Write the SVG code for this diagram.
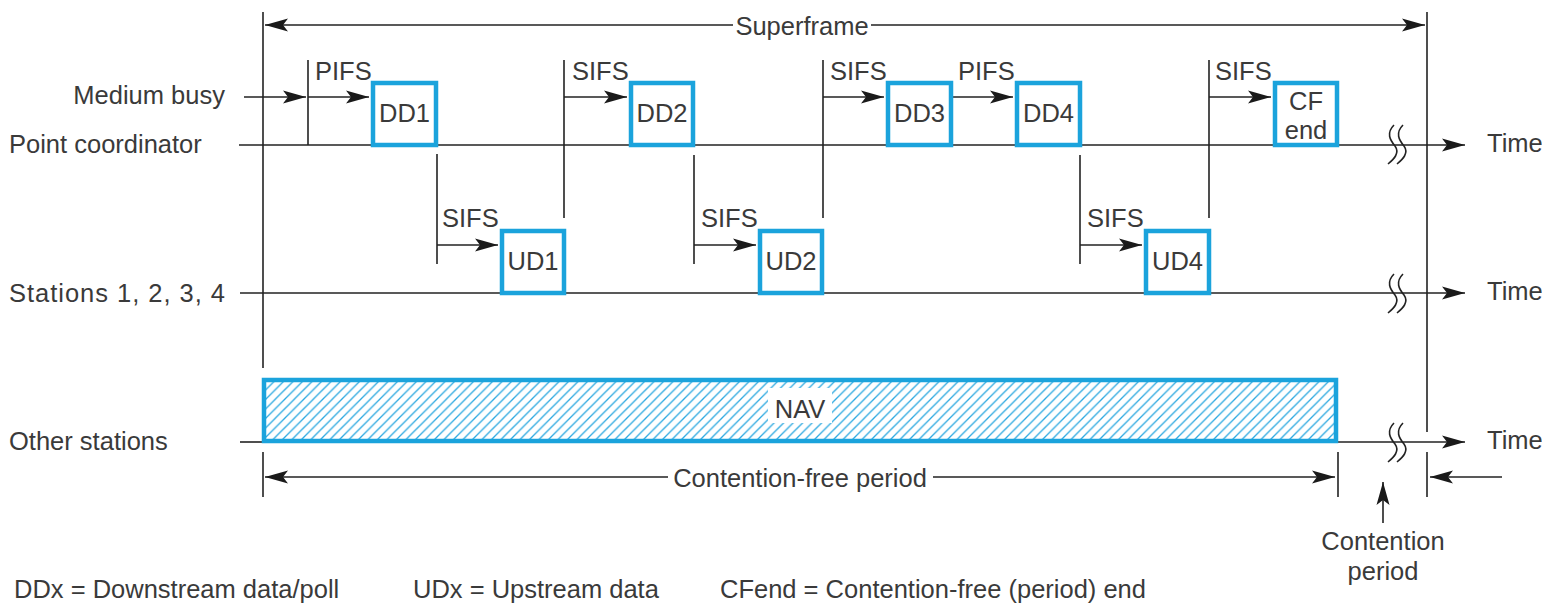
<svg xmlns="http://www.w3.org/2000/svg" width="1542" height="615" viewBox="0 0 1542 615">
<style>
text{font-family:"Liberation Sans",Arial,sans-serif;font-size:25.5px;fill:#3a3a3a}
.ln{stroke:#222;stroke-width:1.6;fill:none}
.ar{stroke:#222;stroke-width:1.6;fill:none;marker-end:url(#ah)}
.box{fill:#fff;stroke:#1ba3dc;stroke-width:4.5}
.mid{text-anchor:middle}
</style>
<defs>
<marker id="ah" viewBox="-24 -8 26 16" markerWidth="26" markerHeight="16" refX="0" refY="0" orient="auto" markerUnits="userSpaceOnUse">
<path d="M0,0 L-23,-6.5 L-18,0 L-23,6.5 Z" fill="#1a1a1a"/>
</marker>
<pattern id="hatch" patternUnits="userSpaceOnUse" width="9.5" height="9.5">
<rect width="9.5" height="9.5" fill="#fff"/>
<path d="M-1,1 L1,-1 M0,9.5 L9.5,0 M8.5,10.5 L10.5,8.5" stroke="#2aa8e0" stroke-width="1.3"/>
</pattern>
</defs>

<g id="row-labels">
<text x="225" y="104" text-anchor="end">Medium busy</text>
<text x="9" y="153">Point coordinator</text>
<text x="9" y="302" textLength="216" lengthAdjust="spacing">Stations 1, 2, 3, 4</text>
<text x="9" y="450">Other stations</text>
<text x="1487" y="152">Time</text>
<text x="1487" y="300">Time</text>
<text x="1487" y="449">Time</text>
</g>

<g id="connectors">
<!-- boundaries -->
<line class="ln" x1="263" y1="12" x2="263" y2="368"/>
<line class="ln" x1="263" y1="452" x2="263" y2="497"/>
<line class="ln" x1="1427" y1="12" x2="1427" y2="432"/>
<line class="ln" x1="1427" y1="452" x2="1427" y2="497"/>
<line class="ln" x1="1338" y1="452" x2="1338" y2="497"/>
<!-- superframe -->
<line class="ar" x1="733" y1="25" x2="265" y2="25"/>
<line class="ar" x1="871" y1="25" x2="1425" y2="25"/>
<!-- time lines -->
<line class="ar" x1="239" y1="145" x2="1465" y2="145"/>
<line class="ar" x1="240" y1="293" x2="1465" y2="293"/>
<line class="ln" x1="240" y1="442" x2="264" y2="442"/>
<line class="ar" x1="1336" y1="442" x2="1465" y2="442"/>
<!-- break marks -->
<path class="ln" d="M1394,125 C1386,133 1390,140 1395,146 C1400,153 1394,159 1388,164"/>
<path class="ln" d="M1403,125 C1395,133 1399,140 1404,146 C1409,153 1403,159 1397,164"/>
<path class="ln" d="M1394,274 C1386,282 1390,289 1395,295 C1400,302 1394,308 1388,313"/>
<path class="ln" d="M1403,274 C1395,282 1399,289 1404,295 C1409,302 1403,308 1397,313"/>
<path class="ln" d="M1394,423 C1386,431 1390,438 1395,444 C1400,451 1394,457 1388,462"/>
<path class="ln" d="M1403,423 C1395,431 1399,438 1404,444 C1409,451 1403,457 1397,462"/>
<!-- medium busy -->
<line class="ar" x1="244" y1="97" x2="306" y2="97"/>
<!-- interframe spaces -->
<line class="ln" x1="308" y1="60" x2="308" y2="145"/>
<line class="ar" x1="308" y1="97" x2="369" y2="97"/>
<line class="ln" x1="437" y1="154" x2="437" y2="264"/>
<line class="ar" x1="437" y1="245" x2="498" y2="245"/>
<line class="ln" x1="564" y1="60" x2="564" y2="218"/>
<line class="ar" x1="564" y1="97" x2="627" y2="97"/>
<line class="ln" x1="694" y1="155" x2="694" y2="264"/>
<line class="ar" x1="694" y1="245" x2="756" y2="245"/>
<line class="ln" x1="823" y1="60" x2="823" y2="218"/>
<line class="ar" x1="823" y1="97" x2="884" y2="97"/>
<line class="ar" x1="953" y1="97" x2="1013" y2="97"/>
<line class="ln" x1="1080" y1="155" x2="1080" y2="264"/>
<line class="ar" x1="1080" y1="245" x2="1142" y2="245"/>
<line class="ln" x1="1209" y1="60" x2="1209" y2="218"/>
<line class="ar" x1="1209" y1="97" x2="1271" y2="97"/>
<!-- contention-free period -->
<line class="ar" x1="668" y1="477" x2="265" y2="477"/>
<line class="ar" x1="933" y1="477" x2="1335" y2="477"/>
<!-- contention period -->
<line class="ar" x1="1502" y1="477" x2="1430" y2="477"/>
<line class="ar" x1="1383" y1="523" x2="1383" y2="482"/>
</g>

<g id="interval-labels">
<text x="315" y="80">PIFS</text>
<text x="442" y="227">SIFS</text>
<text x="572" y="80">SIFS</text>
<text x="701" y="227">SIFS</text>
<text x="830" y="80">SIFS</text>
<text x="958" y="80">PIFS</text>
<text x="1087" y="227">SIFS</text>
<text x="1215" y="80">SIFS</text>
<text x="802" y="35" class="mid">Superframe</text>
<text x="800" y="487" class="mid">Contention-free period</text>
<text x="1383" y="550" class="mid">Contention</text>
<text x="1383" y="580" class="mid">period</text>
</g>

<g id="DD1"><rect class="box" x="373" y="83" width="63" height="62"/><text x="404.5" y="122" class="mid">DD1</text></g>
<g id="DD2"><rect class="box" x="631" y="83" width="62" height="62"/><text x="662" y="122" class="mid">DD2</text></g>
<g id="DD3"><rect class="box" x="888" y="83" width="63" height="62"/><text x="919.5" y="122" class="mid">DD3</text></g>
<g id="DD4"><rect class="box" x="1017" y="83" width="63" height="62"/><text x="1048.5" y="122" class="mid">DD4</text></g>
<g id="CFend"><rect class="box" x="1275" y="83" width="62" height="62"/><text x="1306" y="110" class="mid">CF</text><text x="1306" y="139" class="mid">end</text></g>
<g id="UD1"><rect class="box" x="502" y="231" width="62" height="62"/><text x="533" y="270" class="mid">UD1</text></g>
<g id="UD2"><rect class="box" x="760" y="231" width="62" height="62"/><text x="791" y="270" class="mid">UD2</text></g>
<g id="UD4"><rect class="box" x="1146" y="231" width="63" height="62"/><text x="1177.5" y="270" class="mid">UD4</text></g>

<g id="NAV">
<rect x="264" y="380" width="1072" height="61" fill="url(#hatch)" stroke="#1ba3dc" stroke-width="4.5"/>
<rect x="768" y="388" width="64" height="35" fill="#fff"/>
<text x="800" y="418" class="mid">NAV</text>
</g>

<g id="legend">
<text x="14" y="598">DDx = Downstream data/poll</text>
<text x="413" y="598">UDx = Upstream data</text>
<text x="720" y="598">CFend = Contention-free (period) end</text>
</g>
</svg>
